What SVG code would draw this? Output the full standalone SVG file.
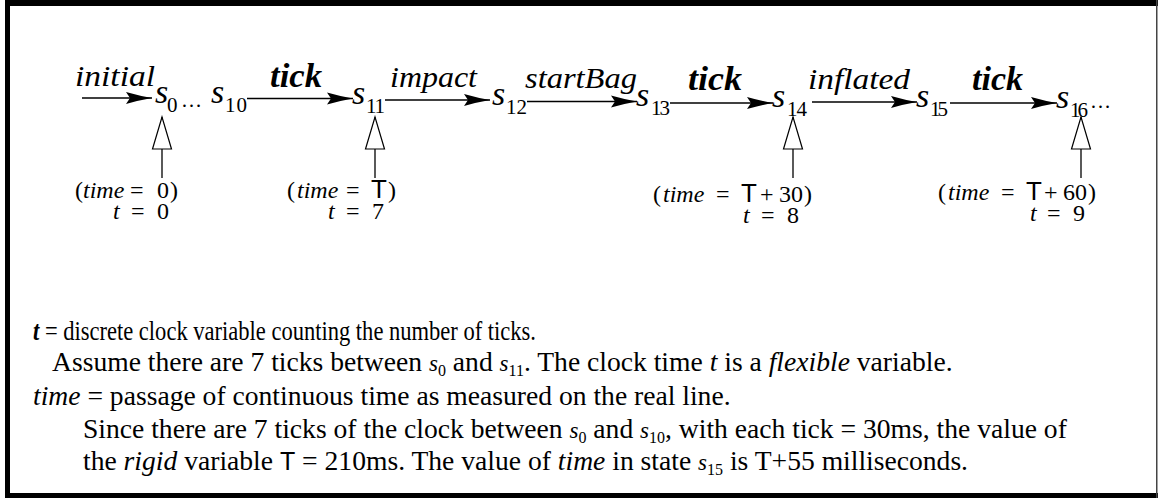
<svg xmlns="http://www.w3.org/2000/svg" width="1158" height="498" viewBox="0 0 1158 498">
<style>
.it{font-style:italic}
.bi{font-style:italic;font-weight:bold}
.st{font-family:"Liberation Serif",serif;font-style:italic;font-size:34px}
.sb{font-family:"Liberation Serif",serif;font-size:21px}
.lab{font-family:"Liberation Serif",serif;font-style:italic;font-size:30px}
.tk{font-family:"Liberation Serif",serif;font-style:italic;font-weight:bold;font-size:33px}
.ann{font-family:"Liberation Serif",serif;font-size:24px}
.T{font-family:"Liberation Sans",Arial,sans-serif;font-size:26px}
.body{font-family:"Liberation Serif",serif;font-size:27.6px}
.m{font-style:italic;font-size:23px}
.ms{font-size:16px}
.edge{stroke:#000;stroke-width:1.3;fill:none}
</style>
<defs>
<marker id="arr" markerUnits="userSpaceOnUse" markerWidth="28" markerHeight="14" viewBox="0 -7 28 14" refX="26" refY="0" orient="auto">
<path d="M0,-6 Q14,-2 26,0 Q14,2 0,6 L4,0 Z" fill="#000"/>
</marker>
<marker id="open" markerUnits="userSpaceOnUse" markerWidth="36" markerHeight="24" viewBox="-2 -12 36 24" refX="32" refY="0" orient="auto">
<path d="M0,-9.5 L32,0 L0,9.5 Z" fill="#fff" stroke="#000" stroke-width="1.2"/>
</marker>
</defs>
<rect width="1158" height="498" fill="#fff"/>
<g id="frame" fill="#000">
<rect x="5" y="0" width="1153" height="6"/>
<rect x="5" y="0" width="5" height="498"/>
<rect x="5" y="493" width="1153" height="5"/>
<rect x="1156" y="0" width="1.5" height="498" fill="#444"/>
</g>
<g id="connectors" class="edge">
<line x1="82" y1="98" x2="152" y2="98" marker-end="url(#arr)"/>
<line x1="247" y1="98.5" x2="353" y2="98.5" marker-end="url(#arr)"/>
<line x1="385" y1="100" x2="490" y2="100" marker-end="url(#arr)"/>
<line x1="527" y1="101.5" x2="637" y2="101.5" marker-end="url(#arr)"/>
<line x1="670" y1="103" x2="773" y2="103" marker-end="url(#arr)"/>
<line x1="812" y1="102" x2="917" y2="102" marker-end="url(#arr)"/>
<line x1="950" y1="103" x2="1057" y2="103" marker-end="url(#arr)"/>
<line x1="162" y1="178" x2="162" y2="117" marker-end="url(#open)"/>
<line x1="375" y1="178" x2="375" y2="117" marker-end="url(#open)"/>
<line x1="793" y1="178" x2="793" y2="117" marker-end="url(#open)"/>
<line x1="1081" y1="178" x2="1081" y2="117" marker-end="url(#open)"/>
</g>
<g id="edge-labels">
<text class="lab" x="75" y="86" textLength="80" lengthAdjust="spacingAndGlyphs">initial</text>
<text class="tk" x="270" y="87" textLength="52" lengthAdjust="spacingAndGlyphs">tick</text>
<text class="lab" x="390" y="87" textLength="87" lengthAdjust="spacingAndGlyphs">impact</text>
<text class="lab" x="525" y="88" textLength="112" lengthAdjust="spacingAndGlyphs">startBag</text>
<text class="tk" x="688" y="90" textLength="54" lengthAdjust="spacingAndGlyphs">tick</text>
<text class="lab" x="808" y="89" textLength="102" lengthAdjust="spacingAndGlyphs">inflated</text>
<text class="tk" x="972" y="90" textLength="51" lengthAdjust="spacingAndGlyphs">tick</text>
</g>
<g id="s0"><text class="st" x="155" y="103">s</text><text class="sb" x="167" y="112">0</text>
<text class="sb" x="181" y="107" textLength="26" lengthAdjust="spacing">…</text></g>
<g id="s10"><text class="st" x="211" y="103">s</text><text class="sb" x="225" y="112" textLength="22">10</text></g>
<g id="s11"><text class="st" x="352" y="104">s</text><text class="sb" x="366" y="113" textLength="19">11</text></g>
<g id="s12"><text class="st" x="492" y="105">s</text><text class="sb" x="506" y="114" textLength="21">12</text></g>
<g id="s13"><text class="st" x="636" y="106">s</text><text class="sb" x="651" y="115" textLength="19">13</text></g>
<g id="s14"><text class="st" x="772" y="107">s</text><text class="sb" x="787" y="116" textLength="20">14</text></g>
<g id="s15"><text class="st" x="916" y="107">s</text><text class="sb" x="930" y="116" textLength="18">15</text></g>
<g id="s16"><text class="st" x="1056" y="108">s</text><text class="sb" x="1070" y="117" textLength="18">16</text>
<text class="sb" x="1090" y="108" textLength="23" lengthAdjust="spacing">…</text></g>
<g id="ann0">
<text class="ann" y="198"><tspan x="75">(</tspan><tspan x="83" class="it">time</tspan><tspan x="130">=</tspan><tspan x="157">0</tspan><tspan x="170">)</tspan></text>
<text class="ann" y="219"><tspan x="113" class="it">t</tspan><tspan x="131">=</tspan><tspan x="157">0</tspan></text>
</g>
<g id="ann11">
<text class="ann" y="198"><tspan x="287">(</tspan><tspan x="297" class="it">time</tspan><tspan x="346">=</tspan><tspan x="371" class="T">T</tspan><tspan x="388">)</tspan></text>
<text class="ann" y="219"><tspan x="328" class="it">t</tspan><tspan x="346">=</tspan><tspan x="372">7</tspan></text>
</g>
<g id="ann14">
<text class="ann" y="202"><tspan x="653">(</tspan><tspan x="663" class="it">time</tspan><tspan x="716">=</tspan><tspan x="741" class="T">T</tspan><tspan x="760">+</tspan><tspan x="779">30</tspan><tspan x="804">)</tspan></text>
<text class="ann" y="223"><tspan x="743" class="it">t</tspan><tspan x="761">=</tspan><tspan x="787">8</tspan></text>
</g>
<g id="ann16">
<text class="ann" y="200"><tspan x="938">(</tspan><tspan x="948" class="it">time</tspan><tspan x="1001">=</tspan><tspan x="1026" class="T">T</tspan><tspan x="1044">+</tspan><tspan x="1063">60</tspan><tspan x="1088">)</tspan></text>
<text class="ann" y="221"><tspan x="1030" class="it">t</tspan><tspan x="1047">=</tspan><tspan x="1073">9</tspan></text>
</g>
<g id="notes">
<text class="body" x="33" y="340" font-size="23.5" textLength="503" lengthAdjust="spacingAndGlyphs"><tspan class="bi">t</tspan> = discrete clock variable counting the number of ticks.</text>
<text class="body" x="52" y="371">Assume there are 7 ticks between <tspan class="m">s</tspan><tspan class="ms" dy="5">0</tspan><tspan dy="-5"> and </tspan><tspan class="m">s</tspan><tspan class="ms" dy="5">11</tspan><tspan dy="-5">. The clock time </tspan><tspan class="it">t</tspan> is a <tspan class="it">flexible</tspan> variable.</text>
<text class="body" x="33" y="405"><tspan class="it">time</tspan> = passage of continuous time as measured on the real line.</text>
<text class="body" x="83" y="438">Since there are 7 ticks of the clock between <tspan class="m">s</tspan><tspan class="ms" dy="5">0</tspan><tspan dy="-5"> and </tspan><tspan class="m">s</tspan><tspan class="ms" dy="5">10</tspan><tspan dy="-5">, with each tick = 30ms, the value of</tspan></text>
<text class="body" x="83" y="470">the <tspan class="it">rigid</tspan> variable <tspan font-family="Liberation Sans, sans-serif" font-size="25px">T</tspan> = 210ms. The value of <tspan class="it">time</tspan> in state <tspan class="m">s</tspan><tspan class="ms" dy="5">15</tspan><tspan dy="-5"> is T+55 milliseconds.</tspan></text>
</g>
</svg>
